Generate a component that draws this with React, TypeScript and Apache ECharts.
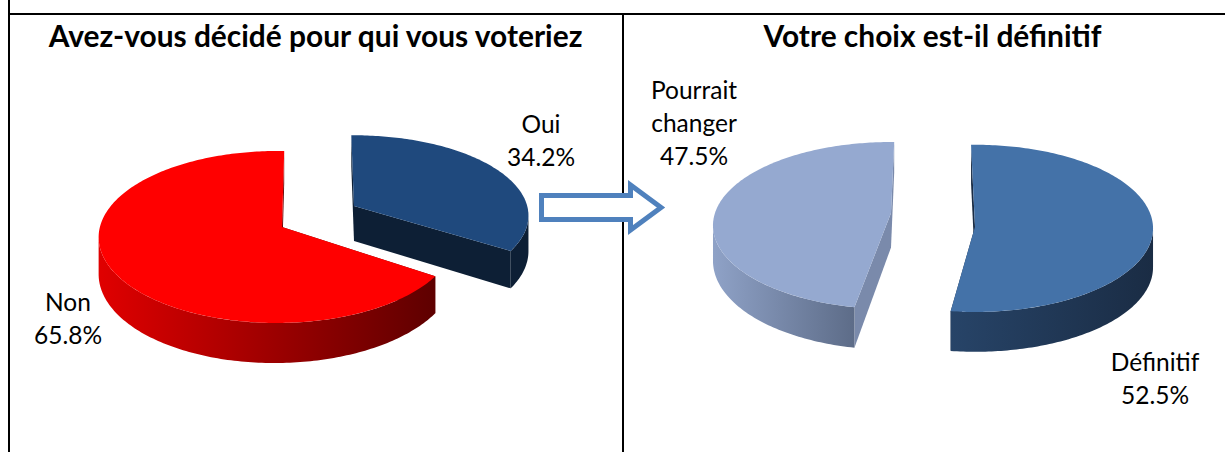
import React, { useEffect, useRef } from "react";
import * as echarts from "echarts";

const leftTitle = "Avez-vous décidé pour qui vous voteriez";
const rightTitle = "Votre choix est-il définitif";
const leftNames = ["Oui", "Non"];
const leftValues = [34.2, 65.8];
const rightNames = ["Définitif", "Pourrait\nchanger"];
const rightValues = [52.5, 47.5];

const FONT = "Lato";

type View = {
  ax: number; ay: number; A: number; B: number; p: number; q: number; D: number; rot: number;
  top: string; face: string; rim: [string, string];
  labelX: number; labelY: number;
};

const leftViews: View[] = [
  { ax: 354, ay: 206, A: 173.2, B: 79.2, p: 0.12, q: 0, D: 35, rot: -1, top: "#1f497d", face: "#0d1f35", rim: ["#0d1f35", "#0d1f35"], labelX: 541, labelY: 139.5 },
  { ax: 282, ay: 227, A: 177, B: 84.8, p: 0.116, q: -0.028, D: 35.4, rot: 0.8, top: "#ff0000", face: "#6a0000", rim: ["#e00000", "#5e0000"], labelX: 68, labelY: 317.5 },
];
const rightViews: View[] = [
  { ax: 975, ay: 226.7, A: 178, B: 83.6, p: 0.02, q: 0, D: 39, rot: -1.3, top: "#4472a8", face: "#1a2c44", rim: ["#274468", "#1a2c44"], labelX: 1155, labelY: 377.5 },
  { ax: 891, ay: 213, A: 176, B: 81.6, p: 0.15, q: 0, D: 34.5, rot: 1.2, top: "#95a9d0", face: "#7a8aab", rim: ["#8fa2c7", "#5d6c88"], labelX: 694, labelY: 122 },
];

function project(v: View, deg: number, z: number): [number, number] {
  const t = (deg * Math.PI) / 180;
  const uu = Math.sin(t);
  const vv = -Math.cos(t);
  const w = 1 - v.p * vv - v.q * uu;
  return [v.ax + (v.A * uu) / w, v.ay + (v.B * vv) / w + (z * v.D) / w];
}

function extremes(v: View): [number, number] {
  let right = 0, left = 0, maxX = -Infinity, minX = Infinity;
  for (let d = 0; d < 360; d += 0.5) {
    const x = project(v, d, 0)[0];
    if (x > maxX) { maxX = x; right = d; }
    if (x < minX) { minX = x; left = d; }
  }
  return [right, left];
}

function arc(v: View, from: number, to: number, z: number): [number, number][] {
  const steps = Math.max(2, Math.ceil(Math.abs(to - from)));
  const out: [number, number][] = [];
  for (let i = 0; i <= steps; i++) out.push(project(v, from + ((to - from) * i) / steps, z));
  return out;
}

function makeSeries(names: string[], values: number[], views: View[]) {
  const total = values.reduce((a, b) => a + b, 0);
  return {
    type: "custom",
    coordinateSystem: "none",
    silent: true,
    data: values.map((val) => [val]),
    renderItem: (params: any, api: any) => {
      const i = params.dataIndex;
      const view = views[i];
      const val = api.value(0);
      const before = values.slice(0, i).reduce((a, b) => a + b, 0);
      const s = view.rot + (before / total) * 360;
      const e = s + (val / total) * 360;
      const apex0: [number, number] = [view.ax, view.ay];
      const apex1: [number, number] = [view.ax, view.ay + view.D];
      const [right, left] = extremes(view);
      const lo = Math.max(s, right);
      const hi = Math.min(e, left);
      const children: any[] = [];
      const faceFor = (deg: number) => ({
        type: "polygon",
        shape: { points: [apex0, project(view, deg, 0), project(view, deg, 1), apex1] },
        style: { fill: view.face },
      });
      children.push(faceFor(s), faceFor(e));
      if (hi > lo) {
        children.push({
          type: "polygon",
          shape: { points: [...arc(view, lo, hi, 0), ...arc(view, hi, lo, 1)] },
          style: {
            fill: new echarts.graphic.LinearGradient(0, 0, 1, 0, [
              { offset: 0, color: view.rim[0] },
              { offset: 1, color: view.rim[1] },
            ]),
          },
        });
      }
      children.push({
        type: "polygon",
        shape: { points: [apex0, ...arc(view, s, e, 0)] },
        style: { fill: view.top },
      });
      children.push({
        type: "text",
        style: {
          text: `${names[i]}\n${val.toFixed(1)}%`,
          x: view.labelX,
          y: view.labelY,
          align: "center",
          verticalAlign: "middle",
          fontFamily: FONT,
          fontSize: 24.5,
          lineHeight: 33,
          fill: "#000000",
        },
      });
      return { type: "group", children };
    },
  };
}

export default function App() {
  const ref = useRef<HTMLDivElement>(null);
  useEffect(() => {
    const chart = echarts.init(ref.current!, undefined, { renderer: "svg" });
    const line = (x1: number, y1: number, x2: number, y2: number) => ({
      type: "line",
      shape: { x1, y1, x2, y2 },
      style: { stroke: "#000000", lineWidth: 2 },
      silent: true,
    });
    chart.setOption({
      animation: false,
      backgroundColor: "#ffffff",
      title: [
        {
          text: leftTitle, left: 310.5, top: 15, textAlign: "center",
          textStyle: { fontFamily: FONT, fontWeight: "bold", fontSize: 29.9, color: "#000000" },
        },
        {
          text: rightTitle, left: 927.5, top: 15, textAlign: "center",
          textStyle: { fontFamily: FONT, fontWeight: "bold", fontSize: 29.9, color: "#000000" },
        },
      ],
      graphic: [
        line(9, 0, 9, 452),
        line(9, 14, 1225, 14),
        line(623, 14, 623, 452),
        {
          type: "polygon",
          silent: true,
          z: 5,
          shape: {
            points: [[541.5, 195.5], [630.5, 195.5], [630.5, 185], [661, 207.5], [630.5, 230], [630.5, 219.5], [541.5, 219.5]],
          },
          style: { fill: "#ffffff", stroke: "#4f81bd", lineWidth: 5 },
        },
      ],
      series: [makeSeries(leftNames, leftValues, leftViews), makeSeries(rightNames, rightValues, rightViews)],
    });
    return () => chart.dispose();
  }, []);
  return <div ref={ref} style={{ position: "absolute", left: 0, top: 0, width: 1225, height: 452 }} />;
}
